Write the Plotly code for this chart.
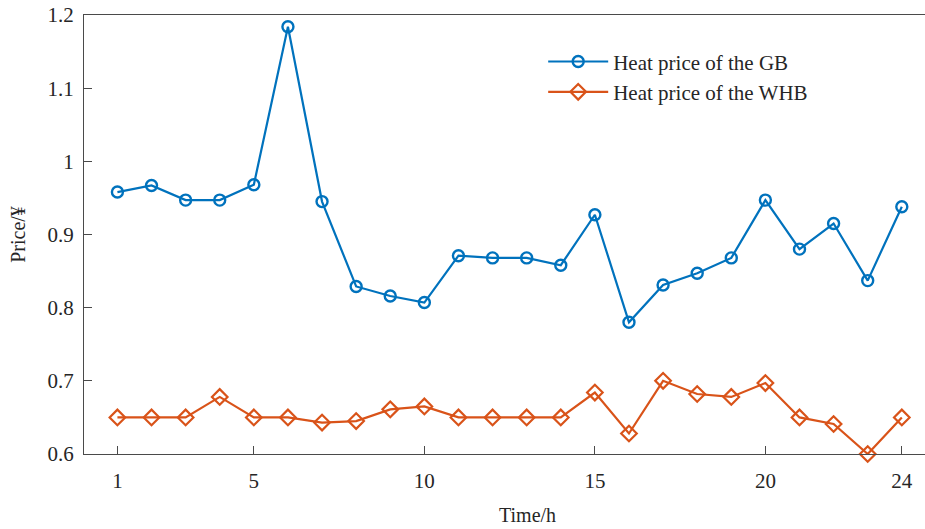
import plotly.graph_objects as go

hours = list(range(1, 25))
gb_price = [0.958, 0.967, 0.947, 0.947, 0.968, 1.184, 0.945, 0.829, 0.816, 0.807,
            0.871, 0.868, 0.868, 0.858, 0.927, 0.780, 0.831, 0.847, 0.868, 0.947,
            0.880, 0.915, 0.837, 0.938]
whb_price = [0.650, 0.650, 0.650, 0.678, 0.650, 0.650, 0.643, 0.645, 0.661, 0.665,
             0.650, 0.650, 0.650, 0.650, 0.684, 0.628, 0.700, 0.682, 0.678, 0.697,
             0.650, 0.641, 0.600, 0.650]
x_ticks = [1, 5, 10, 15, 20, 24]
y_ticks = [0.6, 0.7, 0.8, 0.9, 1.0, 1.1, 1.2]
y_tick_labels = ["0.6", "0.7", "0.8", "0.9", "1", "1.1", "1.2"]
series_names = ["Heat price of the GB", "Heat price of the WHB"]

BLUE = "#0072BD"
ORANGE = "#D95319"
AX = "#4a4a4a"
TXT = "#262626"
FONT = "Liberation Serif"

fig = go.Figure()
fig.add_trace(go.Scatter(
    x=hours, y=gb_price, name=series_names[0], mode="lines+markers",
    line=dict(color=BLUE, width=2.2),
    marker=dict(symbol="circle-open", size=11, color=BLUE, line=dict(width=2.4, color=BLUE)),
    cliponaxis=False,
))
fig.add_trace(go.Scatter(
    x=hours, y=whb_price, name=series_names[1], mode="lines+markers",
    line=dict(color=ORANGE, width=2.2),
    marker=dict(symbol="diamond-open", size=12, color=ORANGE, line=dict(width=2.2, color=ORANGE)),
    cliponaxis=False,
))

fig.update_layout(
    width=925, height=529,
    margin=dict(l=84, r=0, t=15, b=75),
    paper_bgcolor="white", plot_bgcolor="white",
    font=dict(family=FONT, size=20, color=TXT),
    showlegend=True,
    legend=dict(
        x=0.546, y=0.94, xanchor="left", yanchor="top",
        bgcolor="rgba(0,0,0,0)", borderwidth=0,
        font=dict(family=FONT, size=21, color=TXT),
        itemwidth=60, tracegroupgap=0,
    ),
    xaxis=dict(
        range=[0.02, 24.68], tickmode="array", tickvals=x_ticks,
        ticks="inside", ticklen=8, tickcolor=AX, tickwidth=1,
        showline=True, linecolor=AX, linewidth=1.3, mirror=True,
        showgrid=False, zeroline=False, ticklabelstandoff=8,
        tickfont=dict(family=FONT, size=21, color=TXT),
    ),
    yaxis=dict(
        range=[0.6, 1.2], tickmode="array", tickvals=y_ticks, ticktext=y_tick_labels,
        ticks="inside", ticklen=8, tickcolor=AX, tickwidth=1,
        showline=True, linecolor=AX, linewidth=1.3, mirror=False,
        showgrid=False, zeroline=False, ticklabelstandoff=5,
        tickfont=dict(family=FONT, size=21, color=TXT),
        title=dict(text="Price/¥", font=dict(family=FONT, size=20, color=TXT), standoff=16),
    ),
    annotations=[dict(
        text="Time/h", xref="paper", yref="paper", x=0.527, y=-0.1686,
        xanchor="center", yanchor="bottom", showarrow=False,
        font=dict(family=FONT, size=20, color=TXT),
    )],
)

fig.write_html("out.html")
